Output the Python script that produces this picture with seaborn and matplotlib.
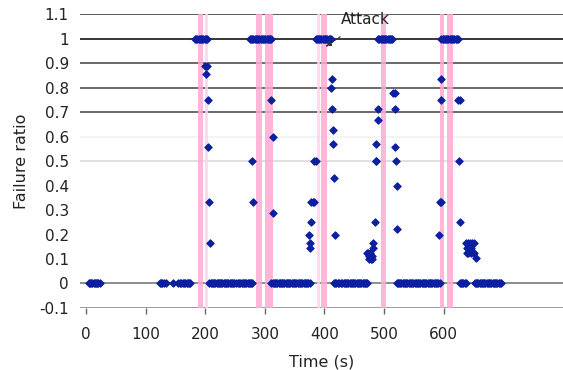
import matplotlib
matplotlib.use("Agg")
import matplotlib.pyplot as plt
import numpy as np
import pandas as pd
import seaborn as sns

# Sample times (s) where the failure ratio is 0
zero_times = [
    5, 7, 9, 11, 13, 15, 17, 19, 21, 23,
    124, 126, 128, 131, 134, 146, 155, 157, 159, 162, 164, 166, 169, 171, 173, 175,
    207, 209, 211, 213, 215, 217, 219, 221, 223, 225, 227, 229, 231, 233, 235, 237,
    239, 241, 243, 245, 247, 249, 251, 255, 257, 259, 261, 263, 265, 267, 269, 271,
    273, 275, 277, 279,
    311, 313, 315, 317, 319, 321, 323, 325, 327, 329, 331, 333, 335, 337, 339, 341,
    343, 345, 347, 349, 351, 353, 355, 357, 359, 361, 363, 365, 367, 369, 371, 373, 375,
    416, 418, 420, 422, 424, 428, 430, 432, 434, 436, 438, 440, 442, 444, 446, 448,
    450, 452, 454, 456, 458, 460, 462, 464, 466, 468, 470, 472,
    521, 523, 525, 527, 529, 531, 533, 535, 537, 539, 541, 543, 545, 547, 549, 551,
    553, 555, 557, 559, 561, 563, 565, 567, 569, 571, 573, 575, 577, 579, 581, 583,
    585, 587, 589, 591, 593,
    627, 629, 631, 633, 635, 637,
    652, 654, 656, 658, 660, 662, 664, 666, 668, 670, 672, 674, 676, 678, 680, 682,
    684, 686, 688, 690, 692, 694, 696,
]

# Sample times (s) where the failure ratio is 1
one_times = [
    183, 185, 187, 189, 191, 193, 195, 197, 199, 201, 203,
    275, 277, 279, 281, 283, 285, 287, 289, 291, 293, 295, 297, 299, 301, 303, 305,
    307, 309, 311,
    385, 387, 389, 391, 393, 395, 397, 399, 401, 403, 405, 407, 409, 411,
    490, 492, 494, 496, 498, 500, 502, 504, 506, 508, 510, 512, 514,
    596, 598, 600, 602, 604, 606, 608, 610, 612, 614, 616, 618, 620, 622, 624,
]

# Transitional samples (time, failure ratio)
mid_times = [
    199, 203, 202, 204, 205, 207, 208,
    278, 280, 311, 313, 313,
    374, 375, 376, 377, 378, 380, 382, 383, 386,
    413, 411, 413, 414, 415, 416, 417,
    471, 473, 474, 475, 476, 478, 479, 480, 481, 482, 484, 486, 487, 487, 489, 490,
    515, 519, 518, 519, 520, 521, 522,
    592, 593, 595, 595, 596, 624, 627, 626, 627,
    638, 640, 644, 647, 650, 639, 642, 646, 639, 641, 645, 650, 654,
]
mid_ratios = [
    0.889, 0.889, 0.857, 0.75, 0.556, 0.333, 0.167,
    0.5, 0.333, 0.75, 0.6, 0.286,
    0.2, 0.167, 0.143, 0.25, 0.333, 0.333, 0.333, 0.5, 0.5,
    0.833, 0.8, 0.714, 0.625, 0.571, 0.429, 0.2,
    0.125, 0.125, 0.111, 0.1, 0.125, 0.1, 0.111, 0.1, 0.167, 0.143, 0.25, 0.5, 0.5, 0.571, 0.667, 0.714,
    0.778, 0.778, 0.714, 0.556, 0.5, 0.4, 0.222,
    0.2, 0.333, 0.333, 0.75, 0.833, 0.75, 0.75, 0.5, 0.25,
    0.167, 0.167, 0.167, 0.167, 0.167, 0.143, 0.143, 0.143, 0.125, 0.125, 0.125, 0.125, 0.105,
]

# Attack windows (start s, end s, shade)
attack_start = [188, 199, 286, 300, 387, 394, 494, 593, 606]
attack_end = [197, 204, 296, 313, 392, 405, 504, 601, 615]
attack_shade = ["strong", "light", "strong", "strong", "light", "strong", "strong", "strong", "strong"]

y_ticks = [-0.1, 0, 0.1, 0.2, 0.3, 0.4, 0.5, 0.6, 0.7, 0.8, 0.9, 1.0, 1.1]
y_tick_labels = ["-0.1", "0", "0.1", "0.2", "0.3", "0.4", "0.5", "0.6", "0.7", "0.8", "0.9", "1", "1.1"]
x_ticks = [0, 100, 200, 300, 400, 500, 600]
x_tick_labels = ["0", "100", "200", "300", "400", "500", "600"]

df = pd.DataFrame({
    "time": zero_times + one_times + mid_times,
    "ratio": [0.0] * len(zero_times) + [1.0] * len(one_times) + mid_ratios,
})

sns.set_theme(style="white")
plt.rcParams["font.family"] = ["DejaVu Sans"]

fig = plt.figure(figsize=(5.63, 3.70), dpi=100)
ax = fig.add_axes([0.142, 0.1676, 0.858, 0.7944])

# Horizontal grid lines, each with its own tone
grid_colors = {
    -0.1: "#8a8a8a", 0.0: "#7a7a7a", 0.1: "#ffffff", 0.2: "#ffffff", 0.3: "#ffffff",
    0.4: "#ffffff", 0.5: "#dadada", 0.6: "#f2f2f2", 0.7: "#505050", 0.8: "#505050",
    0.9: "#505050", 1.0: "#151515", 1.1: "#404040",
}
for yv, c in grid_colors.items():
    ax.axhline(yv, color=c, lw=1.2, zorder=1)

shade_colors = {"strong": "#ffa9d3", "light": "#ffd3ea"}
for s, e, sh in zip(attack_start, attack_end, attack_shade):
    ax.axvspan(s, e, color=shade_colors[sh], alpha=0.85, lw=0, zorder=2)

sns.scatterplot(data=df, x="time", y="ratio", ax=ax, marker="D", s=14,
                color="#0b1fa0", edgecolor="#0b1fa0", linewidth=0.8, zorder=3)

ax.set_xlim(-10, 800)
ax.set_ylim(-0.1, 1.1)
ax.set_yticks(y_ticks)
ax.set_yticklabels(y_tick_labels)
ax.set_xticks(x_ticks)
ax.set_xticklabels(x_tick_labels)
ax.tick_params(axis="y", length=0, pad=8, labelsize=11, colors="#222222")
ax.tick_params(axis="x", length=4, width=1, direction="out", color="#666666",
               pad=10, labelsize=11, labelcolor="#222222", bottom=True)
for side in ["left", "right", "top", "bottom"]:
    ax.spines[side].set_visible(False)

ax.set_xlabel("Time (s)", fontsize=11.5, color="#222222", labelpad=9)
ax.set_ylabel("Failure ratio", fontsize=11.5, color="#222222", labelpad=7)

ax.annotate("Attack", xy=(402, 0.967), xytext=(468, 1.077),
            ha="center", va="center", fontsize=11, color="#222222",
            arrowprops=dict(arrowstyle="-|>", linestyle=(0, (2, 1.5)), lw=0.8,
                            color="#333333", shrinkA=8, shrinkB=0, mutation_scale=8),
            zorder=5)

fig.savefig("out.png", dpi=100)
